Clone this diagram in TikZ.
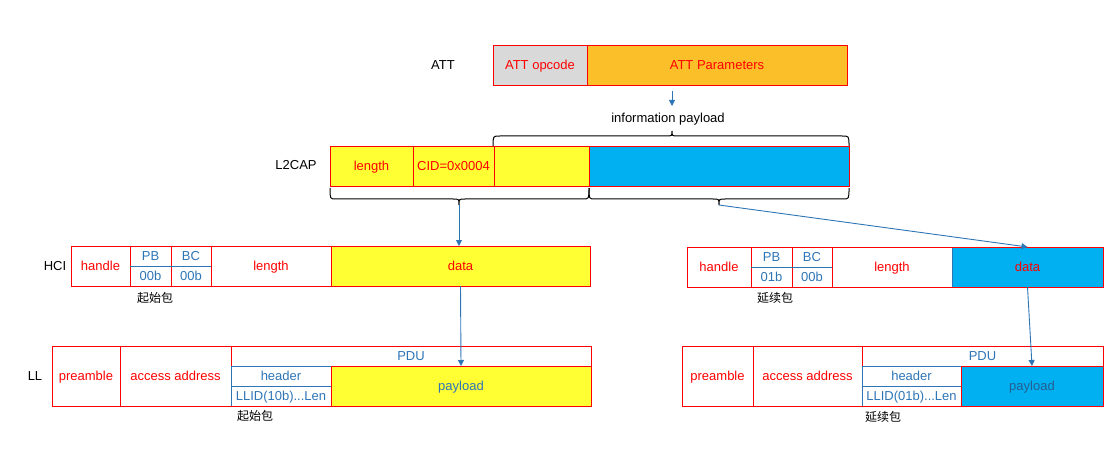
\documentclass[tikz,border=0pt]{standalone}
\usepackage{fontspec}
\setmainfont{Liberation Sans}
\newfontfamily\cjk{Noto Sans CJK SC}
\usetikzlibrary{arrows.meta}
\definecolor{attgray}{HTML}{D9D9D9}
\definecolor{attorange}{HTML}{FBBF29}
\definecolor{pyellow}{HTML}{FFFF33}
\definecolor{pcyan}{HTML}{00B0F0}
\definecolor{pred}{HTML}{FF0000}
\definecolor{tblue}{HTML}{2E75B6}
\begin{document}
\begin{tikzpicture}[x=1pt,y=-1pt,font=\fontsize{13}{15}\selectfont,
  cell/.style n args={2}{rectangle, minimum width=#1pt, minimum height=#2pt, inner sep=0pt, outer sep=0pt, anchor=north west, line width=1pt, text height=10pt, text depth=2pt},
  rb/.style={draw=pred, text=pred},
  bt/.style={text=tblue, inner sep=0pt, text height=10pt, text depth=2pt},
  lbl/.style={text=black, inner sep=0pt, text height=10pt, text depth=2pt},
  cjklbl/.style={text=black, inner sep=0pt, font=\cjk\fontsize{12}{14}\selectfont},
  arr/.style={draw=tblue, line width=0.9pt, -{Triangle[width=6pt,length=6pt]}},
  brace/.style={draw=black, line width=1pt}]
\useasboundingbox (0,0) rectangle (1113,449);

% ---------- ATT ----------
\node[lbl] (attlbl) at (443,66) {ATT};
\node[cell={94}{40}, rb, fill=attgray] (attop) at (493,46) {ATT opcode};
\node[cell={260}{40}, rb, fill=attorange] (attpar) at (587,46) {ATT Parameters};
\coordinate (ipA) at (672,91);
\coordinate (ipB) at (672,106);
\draw[arr] (ipA) -- (ipB);
\node[lbl] (iplbl) at (668,119) {information payload};

% ---------- L2CAP ----------
\node[lbl] (l2lbl) at (296,166) {L2CAP};
\node[cell={83}{40}, rb, fill=pyellow] (l2len) at (330,147) {length};
\node[cell={81}{40}, rb, fill=pyellow] (l2cid) at (413,147) {CID=0x0004};
\node[cell={95}{40}, rb, fill=pyellow] (l2p1) at (494,147) {};
\node[cell={260}{40}, rb, fill=pcyan] (l2p2) at (589,147) {};

% braces
\coordinate (tipTop) at (672,131);
\coordinate (tipL) at (459,205);
\coordinate (tipR) at (719,205);
\draw[brace] (493,146) .. controls (493,136) .. (500,136) -- (666,136)
  .. controls (672,136) .. (tipTop) .. controls (672,136) .. (678,136)
  -- (842,136) .. controls (849,136) .. (849,146);
\draw[brace] (330,188) .. controls (330,199) .. (336,199) -- (453,199)
  .. controls (459,199) .. (tipL) .. controls (459,199) .. (465,199)
  -- (583,199) .. controls (589,199) .. (589,188);
\draw[brace] (589,188) .. controls (589,199) .. (595,199) -- (713,199)
  .. controls (719,199) .. (tipR) .. controls (719,199) .. (725,199)
  -- (843,199) .. controls (849,199) .. (849,188);

% ---------- HCI left ----------
\node[lbl] (hcilbl) at (55,266) {HCI};
\node[cell={59}{40}, rb] (hLhandle) at (71,246) {handle};
\node[cell={41}{40}, draw=pred, line width=1pt] (hLpb) at (130,246) {};
\node[cell={40}{40}, draw=pred, line width=1pt] (hLbc) at (171,246) {};
\node[cell={120}{40}, rb] (hLlen) at (211,246) {length};
\node[cell={259}{40}, rb, fill=pyellow] (hLdata) at (331,246) {data};
\draw[tblue, line width=1pt] (hLpb.west) -- (hLbc.east);
\node[bt] (hLpbt) at (150.5,256) {PB};
\node[bt] (hLpbv) at (150.5,276) {00b};
\node[bt] (hLbct) at (191,256) {BC};
\node[bt] (hLbcv) at (191,276) {00b};
\node[cjklbl] (hLcn) at (155,298) {起始包};

% ---------- HCI right ----------
\node[cell={64}{40}, rb] (hRhandle) at (687,247) {handle};
\node[cell={41}{40}, draw=pred, line width=1pt] (hRpb) at (751,247) {};
\node[cell={40}{40}, draw=pred, line width=1pt] (hRbc) at (792,247) {};
\node[cell={120}{40}, rb] (hRlen) at (832,247) {length};
\node[cell={151}{40}, draw=tblue, text=pred, fill=pcyan] (hRdata) at (952,247) {data};
\draw[draw=pred, line width=1pt] (hRhandle.north west) rectangle (hRdata.south east);
\draw[tblue, line width=1pt] (hRpb.west) -- (hRbc.east);
\node[bt] (hRpbt) at (771.5,257) {PB};
\node[bt] (hRpbv) at (771.5,277) {01b};
\node[bt] (hRbct) at (812,257) {BC};
\node[bt] (hRbcv) at (812,277) {00b};
\node[cjklbl] (hRcn) at (775,298) {延续包};

% ---------- LL left ----------
\node[lbl] (lllbl) at (35,376) {LL};
\node[cell={68}{60}, rb] (lLpre) at (52,346) {preamble};
\node[cell={111}{60}, rb] (lLacc) at (120,346) {access address};
\node[cell={360}{20}, draw=pred, text=tblue] (lLpdu) at (231,346) {PDU};
\node[cell={100}{20}, draw=tblue, text=tblue] (lLhdr) at (231,366) {header};
\node[cell={100}{20}, draw=tblue, text=tblue] (lLllid) at (231,386) {LLID(10b)...Len};
\node[cell={260}{40}, draw=pred, text=tblue, fill=pyellow] (lLpay) at (331,366) {payload};
\draw[draw=pred, line width=1pt] (lLpre.north west) rectangle (lLpay.south east);
\node[cjklbl] (lLcn) at (255,416) {起始包};

% ---------- LL right ----------
\node[cell={71}{60}, rb] (lRpre) at (682,346) {preamble};
\node[cell={109}{60}, rb] (lRacc) at (753,346) {access address};
\node[cell={241}{20}, draw=pred, text=tblue] (lRpdu) at (862,346) {PDU};
\node[cell={99}{20}, draw=tblue, text=tblue] (lRhdr) at (862,366) {header};
\node[cell={99}{20}, draw=tblue, text=tblue] (lRllid) at (862,386) {LLID(01b)...Len};
\node[cell={142}{40}, draw=pred, text=tblue!80!black, fill=pcyan] (lRpay) at (961,366) {payload};
\draw[draw=pred, line width=1pt] (lRpre.north west) rectangle (lRpay.south east);
\node[cjklbl] (lRcn) at (883,417) {延续包};

% ---------- arrows ----------
\draw[arr] (tipL) -- (tipL |- hLdata.north);
\draw[arr] (tipR) -- (hRdata.north);
\draw[arr] (hLdata.south) -- (lLpay.north);
\draw[arr] (hRdata.south) -- (lRpay.north);
\end{tikzpicture}
\end{document}
